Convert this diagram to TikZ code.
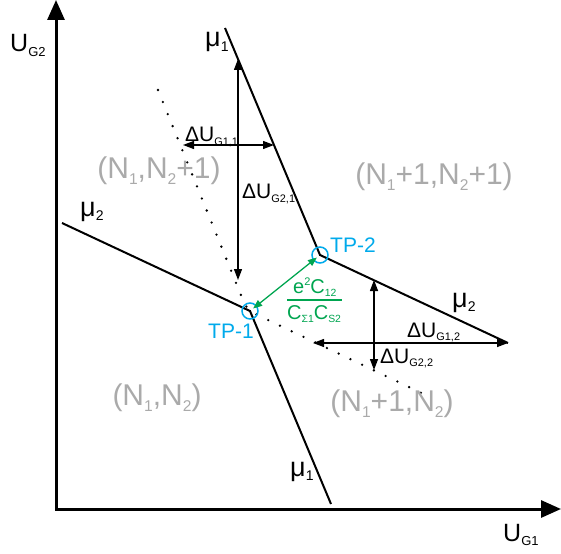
\documentclass[tikz,border=0pt]{standalone}
\usepackage{fontspec}
\usepackage{graphicx}
\setmainfont{Liberation Sans}
\usetikzlibrary{arrows.meta,calc,positioning}
\definecolor{tpblue}{RGB}{0,170,235}
\definecolor{capgreen}{RGB}{0,165,80}
\definecolor{regiongray}{RGB}{170,170,170}
\newcommand{\dnidx}[1]{\raisebox{-0.18em}{\scalebox{0.52}{#1}}}
\newcommand{\upidx}[1]{\raisebox{0.4em}{\scalebox{0.55}{#1}}}

\begin{document}
\begin{tikzpicture}[x=1pt,y=-1pt,>={Triangle[length=11pt,width=8pt]}]
  \tikzstyle{axisline}=[line width=3pt,line join=miter,{Triangle[length=20pt,width=17pt]}-{Triangle[length=20pt,width=17pt]}]
  \tikzstyle{wall}=[line width=2pt]
  \tikzstyle{dshift}=[line width=1.3pt,<->]
  \tikzstyle{dotline}=[line width=2.6pt,line cap=round,dash pattern=on 0pt off 13pt,rounded corners=8pt]
  \tikzstyle{lbl}=[anchor=base west,inner sep=0pt]
  \tikzstyle{statelbl}=[inner sep=0pt,text=regiongray,font=\fontsize{30}{36}\selectfont]
  \tikzstyle{mulbl}=[lbl,font=\fontsize{27}{32}\selectfont]
  \tikzstyle{dlbl}=[lbl,font=\fontsize{21}{25}\selectfont]
  \tikzstyle{tpring}=[draw=tpblue,line width=1.5pt,circle,minimum size=16pt,inner sep=0pt]
  \useasboundingbox (0,0) rectangle (561,553);

  % axes
  \coordinate (o) at (56,509);
  \coordinate (ytop) at (56,0);
  \coordinate (xend) at (561,509);
  \draw[axisline] (ytop) -- (o) -- (xend);
  \node[lbl,font=\fontsize{25}{30}\selectfont] (ug2) at (10,52) {U\dnidx{G2}};
  \node[lbl,font=\fontsize{25}{30}\selectfont] (ug1) at (503,541) {U\dnidx{G1}};

  % boundaries of the charge states
  \coordinate (tpa) at (250,311);
  \coordinate (tpb) at (320,255);
  \coordinate (mua) at (225,28);
  \coordinate (mub) at (331,504);
  \coordinate (mvc) at (62,223);
  \coordinate (mvd) at (508,343);
  \draw[wall] (mvc) -- (tpa) -- (mub);
  \draw[wall] (mua) -- (tpb) -- (mvd);
  \coordinate (dta) at (158,90);
  \coordinate (dtb) at (247,310);
  \coordinate (dtc) at (432,398);
  \draw[dotline] (dta) -- (dtb) -- (dtc);

  \node[mulbl] (m1a) at (205,47) {μ\dnidx{1}};
  \node[mulbl] (m1b) at (290,476) {μ\dnidx{1}};
  \node[mulbl] (m2a) at (80,216) {μ\dnidx{2}};
  \node[mulbl] (m2b) at (452,307) {μ\dnidx{2}};

  % gate voltage periods
  \coordinate (ga) at (183,145);
  \coordinate (gb) at (274,145);
  \coordinate (gc) at (238,59);
  \coordinate (gd) at (238,280);
  \coordinate (ge) at (374,280);
  \coordinate (gf) at (374,370);
  \coordinate (gg) at (313,343);
  \draw[dshift] (ga) -- (gb);
  \draw[dshift] (gc) -- (gd);
  \draw[dshift] (ge) -- (gf);
  \draw[dshift] (gg) -- (mvd);
  \node[dlbl] (dg11) at (185,142) {ΔU\dnidx{G1,1}};
  \node[dlbl] (dg21) at (242,199) {ΔU\dnidx{G2,1}};
  \node[dlbl] (dg12) at (407,337) {ΔU\dnidx{G1,2}};
  \node[dlbl] (dg22) at (380,363) {ΔU\dnidx{G2,2}};

  % triple points
  \node[tpring] (ra) at (tpa) {};
  \node[tpring] (rb) at (tpb) {};
  \node[dlbl,text=tpblue] (tpla) at (208,338) {TP-1};
  \node[dlbl,text=tpblue] (tplb) at (330,252) {TP-2};
  \draw[capgreen,line width=1.3pt,{Triangle[length=9pt,width=7pt]}-{Triangle[length=9pt,width=7pt]},shorten <=4pt,shorten >=4pt] (tpa) -- (tpb);
  \node[lbl,text=capgreen,font=\fontsize{20}{24}\selectfont] (num) at (293,293) {e\upidx{2}C\dnidx{12}};
  \node[lbl,text=capgreen,font=\fontsize{20}{24}\selectfont] (den) at (287,319) {C\dnidx{Σ1}C\dnidx{S2}};
  \coordinate (fba) at (287,300);
  \coordinate (fbb) at (342,300);
  \draw[capgreen,line width=1.2pt] (fba) -- (fbb);

  % charge states
  \node[statelbl] (s01) at (159,171) {(N\dnidx{1},N\dnidx{2}+1)};
  \node[statelbl] (s11) at (434,177) {(N\dnidx{1}+1,N\dnidx{2}+1)};
  \node[statelbl] (s00) at (157,398) {(N\dnidx{1},N\dnidx{2})};
  \node[statelbl] (s10) at (392,404) {(N\dnidx{1}+1,N\dnidx{2})};
\end{tikzpicture}
\end{document}
